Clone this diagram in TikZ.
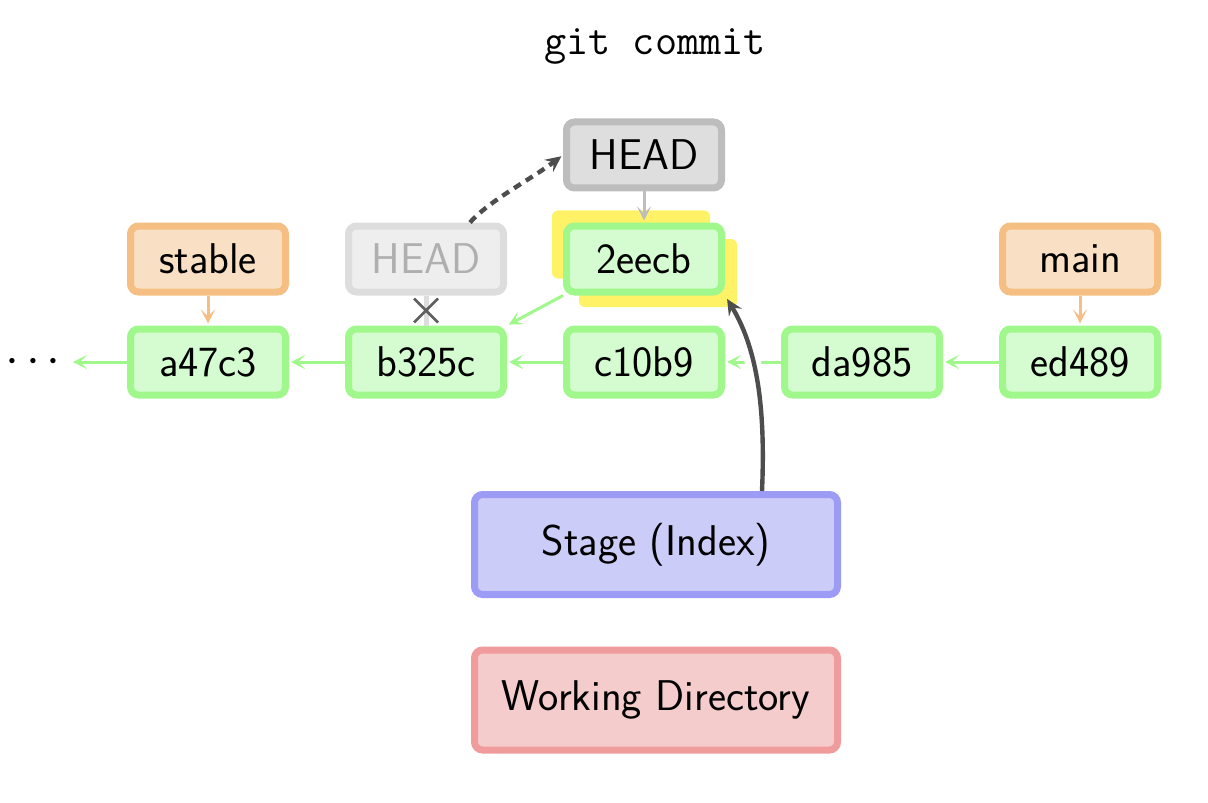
\documentclass[tikz,border=0pt]{standalone}
\usepackage{fontspec}
\usetikzlibrary{arrows.meta}
\definecolor{cfill}{HTML}{D5FCD0}
\definecolor{cdraw}{HTML}{A0F88C}
\definecolor{bfill}{HTML}{F9E0C4}
\definecolor{bdraw}{HTML}{F5BE82}
\definecolor{hfill}{HTML}{DEDEDE}
\definecolor{hdraw}{HTML}{BDBDBD}
\definecolor{ofill}{HTML}{EEEEEE}
\definecolor{odraw}{HTML}{DDDDDD}
\definecolor{otext}{HTML}{AFAFAF}
\definecolor{sfill}{HTML}{CCCCF9}
\definecolor{sdraw}{HTML}{9C9CF5}
\definecolor{wfill}{HTML}{F5CCCC}
\definecolor{wdraw}{HTML}{F09C9C}
\definecolor{yel}{HTML}{FFF266}
\definecolor{dark}{HTML}{4D4D4D}
\begin{document}
\begin{tikzpicture}[x=0.5pt,y=-0.5pt,
  box/.style={rectangle, rounded corners=4pt, line width=3.5pt, minimum width=77.5pt,
    minimum height=33pt, inner sep=0pt, font=\fontsize{21.5}{25}\selectfont\sffamily},
  commit/.style={box, draw=cdraw, fill=cfill},
  branch/.style={box, draw=bdraw, fill=bfill},
  headbox/.style={box, draw=hdraw, fill=hfill},
  oldhead/.style={box, draw=odraw, fill=ofill, text=otext},
  area/.style={box, minimum width=181.5pt, minimum height=50pt},
  hl/.style={rectangle, rounded corners=3pt, fill=yel, minimum width=79pt, minimum height=34pt, inner sep=0pt},
  tipa/.style={-{Stealth[length=7pt,width=7pt,inset=3.5pt]}},
  garrow/.style={tipa, draw=cdraw, line width=1.5pt, shorten >=1pt},
  oarrow/.style={tipa, draw=bdraw, line width=1.5pt, shorten >=1pt},
  harrow/.style={tipa, draw=hdraw, line width=1.5pt, shorten >=1pt},
  darrow/.style={-{Stealth[length=8pt,width=7.5pt,inset=3pt]}, draw=dark, line width=2.2pt},
]
\useasboundingbox (0,0) rectangle (1208,802);

% highlights behind new commit
\node[hl] (y1) at (631,244.5) {};
\node[hl] (y2) at (658,273) {};

\node[font=\fontsize{21.5}{25}\selectfont\ttfamily] (title) at (655,47) {git commit};

\node[headbox] (head) at (644,155) {HEAD};
\node[oldhead] (oldhead) at (426,259) {HEAD};
\node[commit] (eecb) at (644,259) {2eecb};
\node[branch] (stable) at (208,259) {stable};
\node[branch] (main) at (1080,259) {main};

\node[commit] (a47c3) at (208,362) {a47c3};
\node[commit] (b325c) at (426,362) {b325c};
\node[commit] (c10b9) at (644,362) {c10b9};
\node[commit] (da985) at (862,362) {da985};
\node[commit] (ed489) at (1080,362) {ed489};

\node[area, draw=sdraw, fill=sfill] (stage) at (656,544.5) {Stage (Index)};
\node[area, draw=wdraw, fill=wfill] (wd) at (656,700) {Working Directory};

\node[font=\fontsize{32}{36}\selectfont, inner sep=0pt] (dots) at (33,362) {${\cdot}\hspace{3.4pt}{\cdot}\hspace{3.4pt}{\cdot}$};
\coordinate (dotsend) at (71,362);

% history
\draw[garrow] (ed489) -- (da985);
\draw[garrow] (da985) -- (c10b9);
\draw[garrow] (c10b9) -- (b325c);
\draw[garrow] (b325c) -- (a47c3);
\draw[garrow] (a47c3) -- (dotsend);
\draw[garrow] (eecb.south west) -- (b325c.north east);

% branches
\draw[oarrow] (stable) -- (a47c3);
\draw[oarrow] (main) -- (ed489);
\draw[harrow] (head) -- (eecb);

% old HEAD link, crossed out
\draw[draw=odraw, line width=2.5pt] (oldhead) -- (b325c);
\coordinate (cross) at (426,310.5);
\draw[draw=dark!90, line width=1.3pt] ([shift={(-12,-12)}]cross) -- ([shift={(12,12)}]cross)
  ([shift={(-12,12)}]cross) -- ([shift={(12,-12)}]cross);

% HEAD moves
\coordinate (oh) at ([xshift=22pt]oldhead.north);
\draw[darrow, dashed, dash pattern=on 4pt off 3pt, shorten >=1pt] (oh) .. controls (490,200) and (530,180) .. (head.west);

% commit from stage
\coordinate (s1) at ([xshift=53pt]stage.north);
\begin{scope}
  \clip (735,335) rectangle (785,390);
  \draw[white, line width=8pt] (s1) .. controls (766,400) and (755,345) .. (eecb.south east);
\end{scope}
\draw[darrow, shorten >=2pt] (s1) .. controls (766,400) and (755,345) .. (eecb.south east);
\end{tikzpicture}
\end{document}
